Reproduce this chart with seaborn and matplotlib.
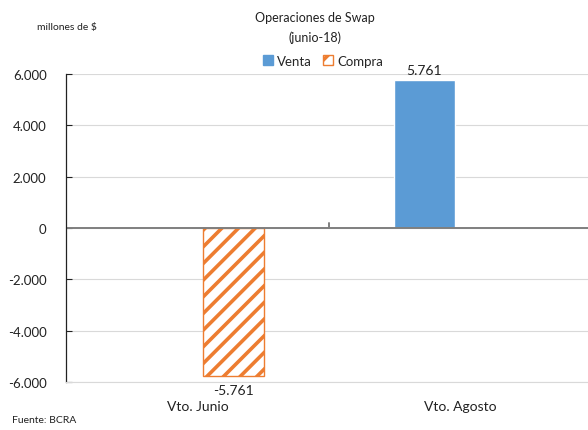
import matplotlib
matplotlib.use("Agg")
import matplotlib.pyplot as plt
import seaborn as sns
import pandas as pd
from matplotlib.patches import Patch

categories = ["Vto. Junio", "Vto. Agosto"]
venta = [0, 5761]
compra = [-5761, 0]
yticks = [-6000, -4000, -2000, 0, 2000, 4000, 6000]
ytick_labels = ["-6.000", "-4.000", "-2.000", "0", "2.000", "4.000", "6.000"]

sns.set_theme(style="white")
plt.rcParams["font.family"] = ["Lato", "DejaVu Sans"]
plt.rcParams["hatch.linewidth"] = 2.6
plt.rcParams["hatch.color"] = "#ED7D31"

df = pd.DataFrame({
    "cat": categories * 2,
    "serie": ["Venta"] * 2 + ["Compra"] * 2,
    "valor": venta + compra,
})

fig = plt.figure(figsize=(5.88, 4.31), dpi=100)
ax = fig.add_axes([66 / 588, 1 - 383 / 431, (592 - 66) / 588, (383 - 75) / 431])

sns.barplot(data=df, x="cat", y="valor", hue="serie", hue_order=["Venta", "Compra"],
            palette={"Venta": "#5B9BD5", "Compra": "#ED7D31"},
            width=0.55, gap=0.155, ax=ax, legend=False, saturation=1)

for patch in ax.patches:
    h = patch.get_height()
    if h < 0:
        patch.set_facecolor("white")
        patch.set_edgecolor("#ED7D31")
        patch.set_hatch("//")
        patch.set_linewidth(1.0)

for patch in ax.patches:
    h = patch.get_height()
    if h == 0:
        continue
    xc = patch.get_x() + patch.get_width() / 2
    txt = f"{abs(h):,.0f}".replace(",", ".")
    if h > 0:
        ax.text(xc, h + 180, txt, ha="center", va="bottom", fontsize=10, color="#222222")
    else:
        ax.text(xc, h - 330, "-" + txt, ha="center", va="top", fontsize=10,
                color="#222222", clip_on=False)

ax.set_xlim(-0.5, 1.5)
ax.set_ylim(-6000, 6000)
ax.set_yticks(yticks)
ax.set_yticklabels(ytick_labels, fontsize=9.5, color="#222222")
ax.set_xticks([0, 1])
ax.set_xticklabels(categories, fontsize=10, color="#222222")
ax.tick_params(axis="x", length=0, pad=13)
ax.tick_params(axis="y", direction="in", length=4, width=0.8, color="#222222", pad=14, left=True)
ax.set_xlabel("")
ax.set_ylabel("")
ax.grid(axis="y", color="#D9D9D9", linewidth=0.8)
ax.set_axisbelow(True)

for s in ["top", "right"]:
    ax.spines[s].set_visible(False)
ax.spines["left"].set_color("#222222")
ax.spines["left"].set_linewidth(0.9)
ax.spines["bottom"].set_color("#D9D9D9")
ax.spines["bottom"].set_linewidth(0.8)

ax.axhline(0, color="#7F7F7F", linewidth=1.4, zorder=1)
ax.plot([0.5, 0.5], [0, 200], color="#7F7F7F", linewidth=1.4, zorder=1)

fig.text(315 / 588, 1 - 18 / 431, "Operaciones de Swap", ha="center", va="center", fontsize=9, color="#222222")
fig.text(315 / 588, 1 - 38 / 431, "(junio-18)", ha="center", va="center", fontsize=9, color="#222222")
fig.text(37 / 588, 1 - 28 / 431, "millones de $", ha="left", va="center", fontsize=7.5, color="#222222")
fig.text(12 / 588, 1 - 421 / 431, "Fuente: BCRA", ha="left", va="center", fontsize=7.5, color="#222222")

handles = [Patch(facecolor="#5B9BD5", edgecolor="#5B9BD5", label="Venta"),
           Patch(facecolor="white", edgecolor="#ED7D31", hatch="//", label="Compra")]
fig.legend(handles=handles, loc="center", bbox_to_anchor=(323 / 588, 1 - 62 / 431), ncol=2,
           frameon=False, fontsize=9.5, handlelength=0.8, handleheight=0.8, handletextpad=0.3,
           columnspacing=0.8, borderpad=0)

fig.savefig("out.png", dpi=100)
